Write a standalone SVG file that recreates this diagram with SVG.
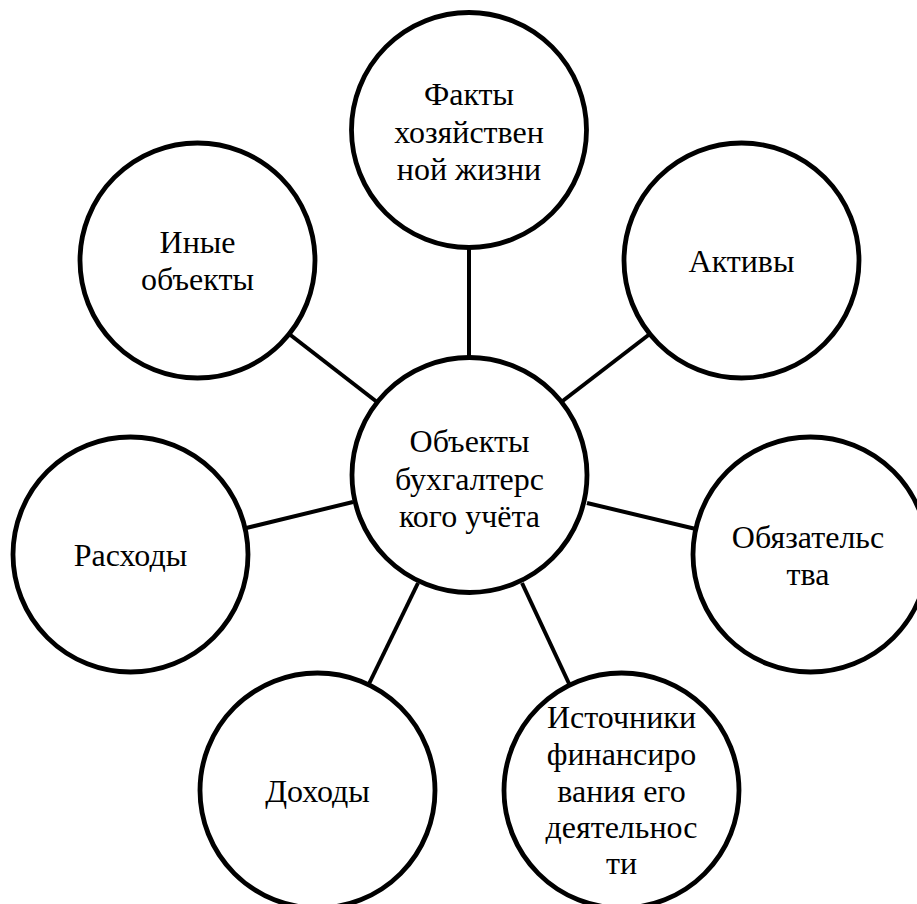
<svg xmlns="http://www.w3.org/2000/svg" width="917" height="904" viewBox="0 0 917 904">
<style>
.node circle{fill:#fff;stroke:#000;stroke-width:4.8}
.node text{font-family:"Liberation Serif","Times New Roman",serif;font-size:32px;fill:#000;text-anchor:middle}
#connectors line{stroke:#000;stroke-width:4}
</style>
<rect width="917" height="904" fill="#fff"/>
<g id="connectors">
<line x1="469" y1="240" x2="469" y2="365"/>
<line x1="560" y1="403" x2="655" y2="330"/>
<line x1="377" y1="402" x2="284" y2="330"/>
<line x1="353" y1="502" x2="238" y2="530"/>
<line x1="587" y1="503" x2="700" y2="530"/>
<line x1="418" y1="583" x2="366" y2="690"/>
<line x1="522" y1="583" x2="572" y2="690"/>
</g>
<g id="n-facts" class="node">
<circle cx="469" cy="130" r="117.5"/>
<text x="469" y="105">Факты</text>
<text x="469" y="143">хозяйствен</text>
<text x="469" y="180">ной жизни</text>
</g>
<g id="n-assets" class="node">
<circle cx="741.5" cy="260.5" r="117.5"/>
<text x="741.5" y="272">Активы</text>
</g>
<g id="n-other" class="node">
<circle cx="197.5" cy="260.5" r="117.5"/>
<text x="197.5" y="253">Иные</text>
<text x="197.5" y="290">объекты</text>
</g>
<g id="n-center" class="node">
<circle cx="469.5" cy="475" r="117.5"/>
<text x="469.5" y="452">Объекты</text>
<text x="469.5" y="490">бухгалтерс</text>
<text x="469.5" y="527">кого учёта</text>
</g>
<g id="n-expenses" class="node">
<circle cx="130.5" cy="554.5" r="117.5"/>
<text x="130.5" y="566">Расходы</text>
</g>
<g id="n-liab" class="node">
<circle cx="810.5" cy="554.5" r="117.5"/>
<text x="808" y="548">Обязательс</text>
<text x="808" y="585">тва</text>
</g>
<g id="n-income" class="node">
<circle cx="317.5" cy="790.5" r="117.5"/>
<text x="317.5" y="802">Доходы</text>
</g>
<g id="n-sources" class="node">
<circle cx="621.5" cy="790.5" r="117.5"/>
<text x="621.5" y="728">Источники</text>
<text x="621.5" y="765">финансиро</text>
<text x="621.5" y="802">вания его</text>
<text x="621.5" y="838">деятельнос</text>
<text x="621.5" y="874">ти</text>
</g>
</svg>
